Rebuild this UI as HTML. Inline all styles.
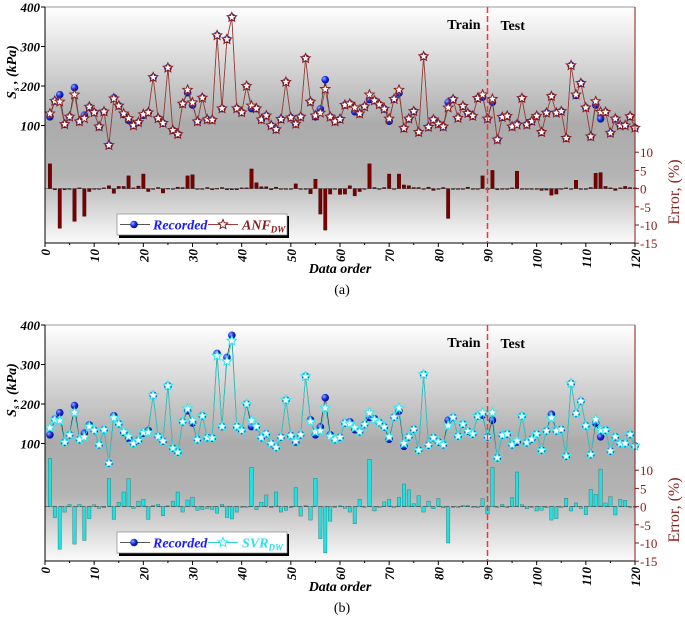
<!DOCTYPE html>
<html><head><meta charset="utf-8">
<style>
body{margin:0;background:#fff;width:685px;height:616px;overflow:hidden}
svg{font-family:"Liberation Serif",serif}
</style></head>
<body>
<svg id="chart" width="685" height="616" viewBox="0 0 685 616" xmlns="http://www.w3.org/2000/svg">
<defs>
<linearGradient id="bg" x1="0" y1="0" x2="0" y2="1">
<stop offset="0" stop-color="#ffffff"/><stop offset="0.5" stop-color="#ababab"/><stop offset="0.72" stop-color="#b4b4b4"/><stop offset="1" stop-color="#fbfbfb"/>
</linearGradient>
<radialGradient id="ball" cx="0.35" cy="0.35" r="0.7"><stop offset="0" stop-color="#9ab0ff"/><stop offset="0.5" stop-color="#1a2ee0"/><stop offset="1" stop-color="#000a80"/></radialGradient>
</defs>
</svg>
<script>
const categories=[];for(let i=1;i<=120;i++)categories.push(i);
const recorded=[122,162,178,103,122,196,110,126,147,133,97,135,50,170,150,128,113,100,108,126,133,222,118,106,246,88,78,155,183,152,110,170,115,114,328,143,318,374,143,133,200,143,143,115,125,100,90,116,210,120,104,122,270,160,122,142,216,122,110,116,152,155,135,130,148,166,163,153,142,111,167,182,93,117,136,83,275,96,115,104,97,159,166,119,149,131,124,169,172,117,159,64,121,124,97,104,169,102,111,124,83,132,174,132,136,68,252,176,207,145,72,152,117,134,81,117,100,100,123,94];
const anfPred=[130,162,160,103,122,178,110,118,147,133,97,135,50,168,150,130,118,100,108,128,133,222,118,106,246,88,78,155,190,158,110,170,115,114,328,143,318,374,143,133,200,150,143,115,125,100,90,116,210,120,104,122,270,160,125,132,192,122,110,116,152,155,145,130,148,178,163,153,142,117,167,190,93,117,136,83,275,96,115,104,97,145,166,119,149,131,124,169,178,117,167,64,121,124,97,102,169,102,111,124,83,132,174,132,136,68,252,178,207,145,72,161,134,134,81,117,100,100,123,94];
const anfErr=[6.8,-0.3,-10.9,-0.3,0,-9,0.2,-7.6,-0.8,-0.2,0,0.2,0.8,-1.3,0.6,0.6,3.5,0.2,0.7,4,-0.8,-0.2,0.3,-1.2,0.1,0,0.4,0.3,3.5,3.8,-0.2,0,0.3,-0.3,0.1,0.3,-0.3,-0.3,-0.3,0.2,0.2,5.4,1.6,0.5,0.5,-0.3,0.4,-0.2,-0.2,0,1.3,0,0,-1.4,2.6,-7,-11.4,-1.5,0,-1.6,-1.5,0.8,-2,-0.8,0,6.8,0.3,0,0.3,4,0,4,1,0.8,0.3,0.3,0,0.4,-0.5,0,0.3,-8.2,0,0,0,0.4,0,0,3.5,0,5,-0.3,0,0,0.2,4.8,0,0,-0.2,-0.2,-0.5,-0.4,-1.8,-1.5,0,0.2,0,2.3,0,0,0.3,4.2,4.4,0.6,0.2,-0.5,0.2,0.6,0.3,0.2];
const svrPred=[140,160,158,103,122,178,110,116,143,133,97,135,50,165,150,130,118,100,108,128,128,222,118,106,246,88,78,155,188,158,110,170,115,114,322,143,308,360,143,133,200,158,143,115,125,100,90,116,210,120,106,122,270,155,130,132,190,118,110,116,152,150,140,130,148,178,160,153,142,117,167,190,100,117,136,83,275,96,115,104,97,145,166,119,149,131,124,169,178,117,178,64,121,124,97,107,169,102,111,124,83,132,165,132,136,68,252,176,207,145,72,161,134,134,81,117,100,100,123,94];
const svrErr=[13.2,-3,-11.7,-1.5,0.6,-10.3,0.6,-9.3,-3.3,0.5,-0.5,-0.3,7.7,-3.5,1.2,4,7.7,-0.5,1.5,2,-3.5,0.3,0.6,-2.5,0.2,1.5,4,-1.5,1.8,2.6,-1,-0.8,-0.5,-0.8,-1.8,0.6,-3,-3.4,-1.5,0,0,10.8,-0.8,1.2,3.2,-0.3,4,-1.5,-1,-0.3,5.2,-2.6,0.3,-3.7,7.8,-8.8,-12.7,-4,-0.2,0.2,-0.5,-1.5,-4.7,2,0,13,-1.2,0,1.3,2,0,2.5,6.2,4.6,0.8,3,-1.5,1.5,-0.6,2.2,-0.3,-10,0,0,0.3,0.3,0,-0.3,2.2,-2,10.7,-0.2,0.6,-0.3,2.5,9.5,0.5,-0.6,0,-1.2,-1,-0.3,-3.7,-3.3,0,2.3,-1.2,1,-0.5,-2.2,4.7,3.4,10.3,1,2.7,-2.3,2,1.7,0,0];
const xTicks=[0,10,20,30,40,50,60,70,80,90,100,110,120];
const yTicks=[100,200,300,400];
const errTicks=[10,5,0,-5,-10,-15];

const svg=document.getElementById('chart');
const NS='http://www.w3.org/2000/svg';
function mk(tag,attrs,parent){const e=document.createElementNS(NS,tag);for(const k in attrs)e.setAttribute(k,attrs[k]);(parent||svg).appendChild(e);return e;}
const X0=45,X1=635;
function xs(v){return X0+(X1-X0)*v/120;}
function starPts(cx,cy,r){let p=[];for(let i=0;i<10;i++){const a=-Math.PI/2+i*Math.PI/5;const rr=i%2?r*0.45:r;p.push((cx+rr*Math.cos(a)).toFixed(1)+','+(cy+rr*Math.sin(a)).toFixed(1));}return p.join(' ');}

function panel(off,pred,err,name,barFill,barStroke,lineCol,starStroke,starFill,legCol,label,cap){
  const Y0=7+off,Y1=243+off;
  const ys=v=>Y0+(400-v)*0.395;
  const es=v=>188.6+off-v*3.64;
  const g=mk('g',{});
  
  
  const bg=mk('rect',{x:X0,y:Y0,width:X1-X0,height:Y1-Y0,fill:'url(#bg)'},g);
  
  
  err.forEach((v,i)=>{const x=xs(categories[i]);const y=es(Math.max(v,0)),h=Math.abs(es(v)-es(0));
    const b=mk('rect',{x:x-1.7,y:y,width:3.4,height:Math.max(h,0.8),fill:barFill,stroke:barStroke,'stroke-width':0.4},g);
    
    });
  const zl=mk('line',{x1:X0,x2:X1,y1:es(0),y2:es(0),stroke:'#444','stroke-width':0.6,'stroke-dasharray':'5,2'},g);
  
  
  const lr=mk('polyline',{points:recorded.map((v,i)=>xs(categories[i])+','+ys(v)).join(' '),fill:'none',stroke:'#333','stroke-width':0.7},g);
  
  
  recorded.forEach((v,i)=>{const c=mk('circle',{cx:xs(categories[i]),cy:ys(v),r:3.8,fill:'url(#ball)'},g);
    
    });
  const lp=mk('polyline',{points:pred.map((v,i)=>xs(categories[i])+','+ys(v)).join(' '),fill:'none',stroke:lineCol,'stroke-width':0.8},g);
  
  
  pred.forEach((v,i)=>{const s=mk('polygon',{points:starPts(xs(categories[i]),ys(v),4.9),fill:starFill,stroke:starStroke,'stroke-width':1},g);
    
    });
  mk('line',{x1:X0,x2:X1,y1:Y0,y2:Y0,stroke:'#999','stroke-width':1},g);
  mk('line',{x1:X0,x2:X0,y1:Y0,y2:Y1,stroke:'#000','stroke-width':1},g);
  mk('line',{x1:X0,x2:X1,y1:Y1,y2:Y1,stroke:'#000','stroke-width':1},g);
  mk('line',{x1:X1,x2:X1,y1:Y0,y2:Y1,stroke:'#8b1a1a','stroke-width':1},g);
  const d=mk('line',{x1:xs(90),x2:xs(90),y1:Y0,y2:Y1,stroke:'#ff3030','stroke-width':1.5,'stroke-dasharray':'6,3'},g);
  
  
  const t1=mk('text',{x:xs(90)-7,y:Y0+22,'text-anchor':'end','font-size':14,'font-weight':'bold'},g);t1.textContent='Train';
  
  const t2=mk('text',{x:xs(90)+13,y:Y0+23,'font-size':14,'font-weight':'bold'},g);t2.textContent='Test';
  
  xTicks.forEach(v=>{const x=xs(v);mk('line',{x1:x,x2:x,y1:Y1,y2:Y1+4,stroke:'#000'},g);
    const t=mk('text',{transform:`translate(${x+5},${Y1+6}) rotate(-90)`,'text-anchor':'end','font-size':13,'font-weight':'bold','font-style':'italic'},g);t.textContent=v;
    });
  for(let v=5;v<120;v+=10)mk('line',{x1:xs(v),x2:xs(v),y1:Y1,y2:Y1+2,stroke:'#000'},g);
  yTicks.forEach(v=>{const y=ys(v);mk('line',{x1:X0,x2:X0-4,y1:y,y2:y,stroke:'#000'},g);
    const t=mk('text',{x:X0-5,y:y+5,'text-anchor':'end','font-size':13,'font-weight':'bold','font-style':'italic'},g);t.textContent=v;
    });
  errTicks.forEach(v=>{const y=es(v);mk('line',{x1:X1,x2:X1+4,y1:y,y2:y,stroke:'#8b1a1a'},g);
    const t=mk('text',{x:X1+5,y:y+5,'font-size':13,fill:'#8b1a1a'},g);t.textContent=v;
    });
  const yl=mk('text',{transform:`translate(16,${Y0+65}) rotate(-90)`,'text-anchor':'middle','font-size':14,'font-weight':'bold','font-style':'italic'},g);
  yl.innerHTML='S<tspan font-size="9" dy="3">s</tspan><tspan dy="-3"> , (kPa)</tspan>';
  
  const el=mk('text',{transform:`translate(679,${Y0+185}) rotate(-90)`,'text-anchor':'middle','font-size':16,fill:'#8b1a1a'},g);el.textContent='Error, (%)';
  
  const xl=mk('text',{x:340,y:Y1+30,'text-anchor':'middle','font-size':14,'font-weight':'bold','font-style':'italic'},g);xl.textContent='Data order';
  
  const cp=mk('text',{x:342,y:Y1+51,'text-anchor':'middle','font-size':14},g);cp.textContent='('+cap+')';
  
  const lg=mk('g',{},g);
  
  const LY=214+off;
  mk('rect',{x:119,y:LY+2,width:170,height:22,fill:'#000'},lg);
  mk('rect',{x:117,y:LY,width:170,height:21,fill:'#fff',stroke:'#888','stroke-width':0.7},lg);
  mk('line',{x1:120,x2:150,y1:LY+10.5,y2:LY+10.5,stroke:'#555'},lg);
  mk('circle',{cx:134,cy:LY+10.5,r:3.8,fill:'url(#ball)'},lg);
  const r1=mk('text',{x:153,y:LY+15.5,'font-size':14,'font-weight':'bold','font-style':'italic',fill:'#1a1aff'},lg);r1.textContent='Recorded';
  
  mk('line',{x1:208,x2:238,y1:LY+10.5,y2:LY+10.5,stroke:lineCol},lg);
  mk('polygon',{points:starPts(223,LY+10.5,5),fill:starFill,stroke:starStroke,'stroke-width':1},lg);
  const r2=mk('text',{x:242,y:LY+15.5,'font-size':14,'font-weight':'bold','font-style':'italic',fill:legCol},lg);
  r2.innerHTML=label+'<tspan font-size="9" dy="3">DW</tspan>';
  
}
panel(0,anfPred,anfErr,'anf','#7a0000','#3a0000','#a0403a','#8b1a1a','#fff','#8b1a1a','ANF','a');
panel(318,svrPred,svrErr,'svr','#20e0e0','#207070','#30d0d0','#30e8f0','#fff','#30e0e8','SVR','b');
</script>
</body></html>
